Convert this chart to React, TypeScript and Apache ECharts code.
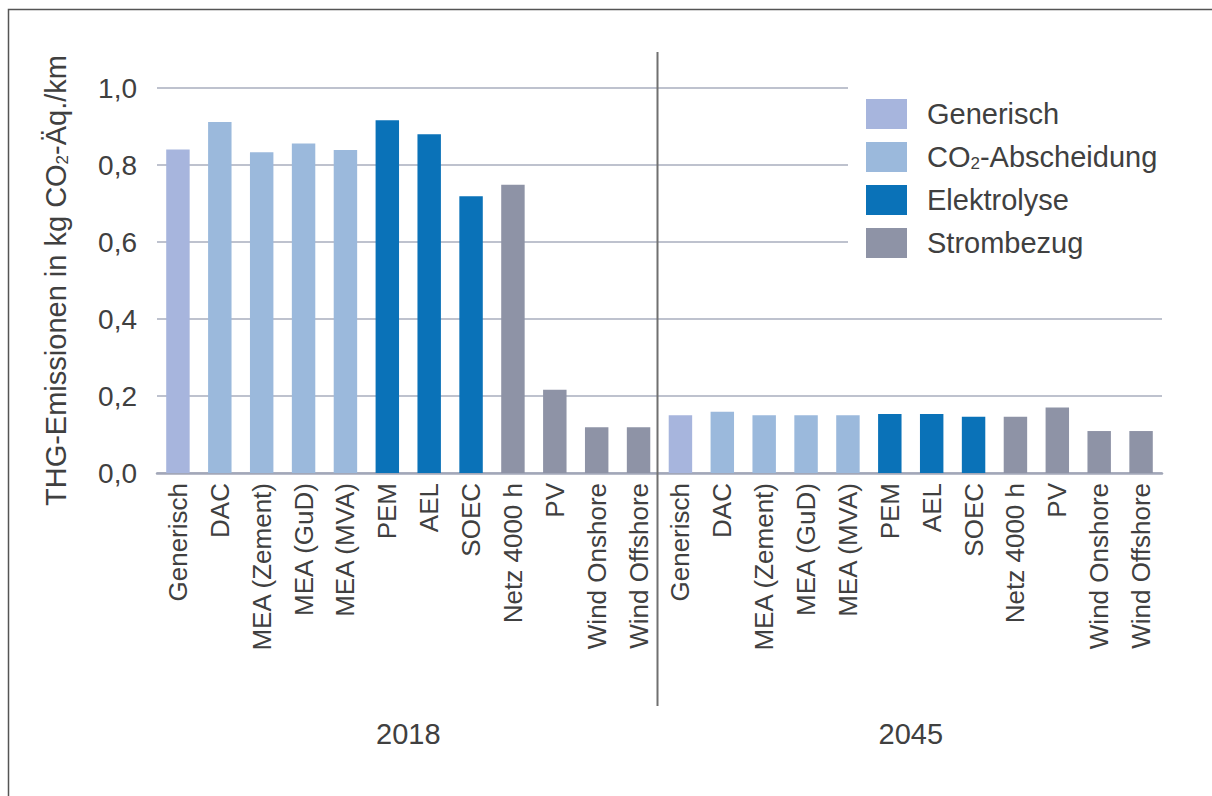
import React, { useEffect, useRef } from "react";
import * as echarts from "echarts";

// Technologies shown once per scenario year
const technologies = [
  "Generisch",
  "DAC",
  "MEA (Zement)",
  "MEA (GuD)",
  "MEA (MVA)",
  "PEM",
  "AEL",
  "SOEC",
  "Netz 4000 h",
  "PV",
  "Wind Onshore",
  "Wind Offshore",
];

// Index into groupNames for each technology
const technologyGroup = [0, 1, 1, 1, 1, 2, 2, 2, 3, 3, 3, 3];

const groupNames = ["Generisch", "CO2-Abscheidung", "Elektrolyse", "Strombezug"];
const groupColors = ["#a7b5dd", "#9bb9dc", "#0a72b8", "#8e93a6"];

const years = ["2018", "2045"];

// THG-Emissionen in kg CO2-Äq./km
const values2018 = [0.84, 0.912, 0.833, 0.856, 0.839, 0.916, 0.88, 0.719, 0.749, 0.216, 0.119, 0.119];
const values2045 = [0.15, 0.159, 0.15, 0.15, 0.15, 0.153, 0.153, 0.146, 0.146, 0.17, 0.109, 0.109];

const yTicks = [0, 0.2, 0.4, 0.6, 0.8, 1.0];

const TEXT = "#404040";
const GRID_LEFT = 157;
const GRID_RIGHT = 50;
const GRID_TOP = 88;
const GRID_BOTTOM = 323;
const W = 1212;
const H = 796;

export default function App() {
  const ref = useRef<HTMLDivElement>(null);

  useEffect(() => {
    document.body.style.margin = "0";
    if (!ref.current) return;
    const chart = echarts.init(ref.current, undefined, { renderer: "svg" });

    const yearValues = [values2018, values2045];
    const categories: string[] = [];
    years.forEach((y) => technologies.forEach((t) => categories.push(y + "|" + t)));

    const series = groupNames.map((g, gi) => {
      const data: (number | string)[] = [];
      yearValues.forEach((vals) =>
        vals.forEach((v, i) => data.push(technologyGroup[i] === gi ? v : "-"))
      );
      return {
        name: g,
        type: "bar",
        stack: "all",
        barWidth: "56%",
        itemStyle: { color: groupColors[gi] },
        data,
      };
    });

    const plotW = W - GRID_LEFT - GRID_RIGHT;
    const sepX = GRID_LEFT + plotW / 2 - 2;

    chart.setOption({
      animation: false,
      backgroundColor: "#ffffff",
      textStyle: { fontFamily: "Liberation Sans, Arial, sans-serif" },
      grid: { left: GRID_LEFT, right: GRID_RIGHT, top: GRID_TOP, bottom: GRID_BOTTOM, containLabel: false },
      legend: {
        orient: "vertical",
        left: 848,
        top: 80,
        backgroundColor: "#ffffff",
        padding: [19, 14, 15, 18],
        itemWidth: 41,
        itemHeight: 30,
        itemGap: 13,
        icon: "rect",
        data: groupNames,
        formatter: (n: string) =>
          n === "CO2-Abscheidung" ? "{t|CO}{s|2}{t|-Abscheidung}" : "{t|" + n + "}",
        textStyle: {
          color: TEXT,
          fontSize: 29,
          padding: [0, 0, 0, 15],
          rich: {
            t: { fontSize: 29, color: TEXT },
            s: { fontSize: 17, color: TEXT, padding: [13, 0, 0, 0] },
          },
        },
      },
      xAxis: [
        {
          type: "category",
          data: categories,
          axisLine: { lineStyle: { color: "#a2a7b8", width: 2.5 } },
          axisTick: { show: false },
          axisLabel: {
            interval: 0,
            rotate: 90,
            margin: 10,
            color: TEXT,
            fontSize: 26,
            formatter: (v: string) => v.split("|")[1],
          },
        },
        {
          type: "category",
          data: years,
          position: "bottom",
          offset: 238,
          axisLine: { show: false },
          axisTick: { show: false },
          axisLabel: { margin: 8, color: TEXT, fontSize: 29 },
        },
      ],
      yAxis: {
        type: "value",
        min: 0,
        max: 1,
        interval: 0.2,
        axisLine: { show: false },
        axisTick: { show: false },
        splitLine: { lineStyle: { color: "#a9aebe", width: 1.5 } },
        axisLabel: {
          color: TEXT,
          fontSize: 28,
          margin: 20,
          formatter: (v: number) => {
            const t = yTicks.find((x) => Math.abs(x - v) < 1e-6);
            return (t ?? v).toFixed(1).replace(".", ",");
          },
        },
        name: "{t|THG-Emissionen in kg CO}{s|2}{t|-Äq./km}",
        nameLocation: "middle",
        nameGap: 86,
        nameRotate: 90,
        nameTextStyle: {
          color: TEXT,
          fontSize: 29,
          rich: {
            t: { fontSize: 29, color: TEXT },
            s: { fontSize: 17, color: TEXT, padding: [13, 0, 0, 0] },
          },
        },
      },
      series,
      graphic: [
        {
          type: "rect",
          silent: true,
          shape: { x: 8.5, y: 9.5, width: 1400, height: 1000 },
          style: { fill: "none", stroke: "#555555", lineWidth: 1.5 },
        },
        {
          type: "line",
          silent: true,
          z: 10,
          shape: { x1: sepX, y1: 52, x2: sepX, y2: 706 },
          style: { stroke: "#707070", lineWidth: 2 },
        },
      ],
    });

    return () => chart.dispose();
  }, []);

  return <div ref={ref} style={{ width: W, height: H }} />;
}
